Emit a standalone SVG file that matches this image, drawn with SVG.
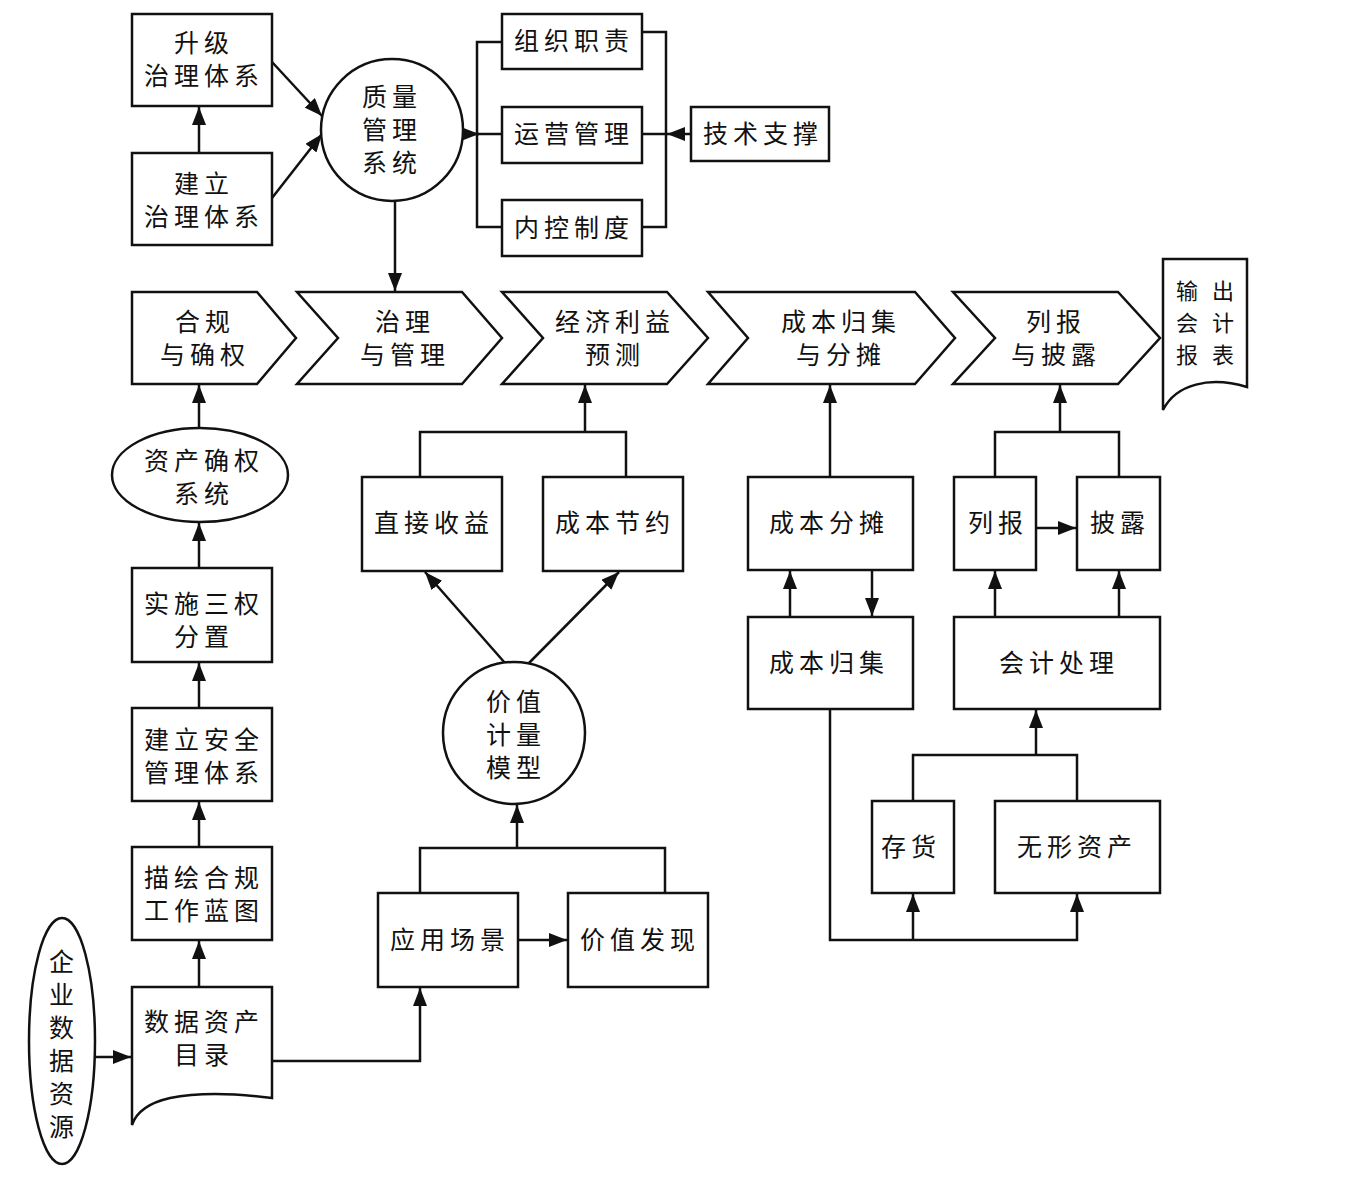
<svg xmlns="http://www.w3.org/2000/svg" width="1371" height="1180" viewBox="0 0 1371 1180">
<style>
.s{fill:#fff;stroke:#111;stroke-width:2.5}
.c{fill:none;stroke:#111;stroke-width:2.5}
.t{font-family:"Noto Sans CJK SC","Noto Sans CJK TC",sans-serif;font-size:25px;letter-spacing:5px;fill:#111;text-anchor:middle}
.o{font-size:22px;letter-spacing:14px}
</style>
<defs>
<marker id="ah" markerUnits="userSpaceOnUse" markerWidth="18" markerHeight="14" refX="18" refY="7" orient="auto">
<path d="M0,0 L18,7 L0,14 z" fill="#111"/>
</marker>
</defs>
<rect width="1371" height="1180" fill="#fff"/>

<g id="connectors" class="c" marker-end="url(#ah)">
<path d="M199,153 L199,107"/>
<path d="M272,62 L322,116"/>
<path d="M272,198 L322,134"/>
<path d="M463,134 L479,134"/>
<path d="M502,42 L477,42 L477,227 L502,227 M477,134 L502,134" marker-end="none"/>
<path d="M642,32 L666,32 L666,227 L642,227 M642,134 L666,134" marker-end="none"/>
<path d="M691,134 L667,134"/>
<path d="M395,201 L395,291"/>
<path d="M199,428 L199,385"/>
<path d="M199,568 L199,523"/>
<path d="M199,708 L199,663"/>
<path d="M199,847 L199,802"/>
<path d="M199,987 L199,941"/>
<path d="M95,1057 L131,1057"/>
<path d="M272,1061 L420,1061 L420,988"/>
<path d="M518,940 L567,940"/>
<path d="M420,893 L420,848 L665,848 L665,893" marker-end="none"/>
<path d="M517,848 L517,805"/>
<path d="M505,663 L425,572"/>
<path d="M529,663 L619,572"/>
<path d="M420,477 L420,432 L626,432 L626,477" marker-end="none"/>
<path d="M585,432 L585,385"/>
<path d="M830,477 L830,385"/>
<path d="M790,617 L790,571"/>
<path d="M872,570 L872,616"/>
<path d="M830,709 L830,940 L1077,940 L1077,894"/>
<path d="M913,940 L913,894"/>
<path d="M913,801 L913,755 L1077,755 L1077,801" marker-end="none"/>
<path d="M1036,755 L1036,710"/>
<path d="M995,617 L995,571"/>
<path d="M1119,617 L1119,571"/>
<path d="M1036,528 L1076,528"/>
<path d="M995,477 L995,432 L1119,432 L1119,477" marker-end="none"/>
<path d="M1060,432 L1060,385"/>
</g>

<g id="n-upgrade"><rect class="s" x="132" y="14" width="140" height="92"/><text class="t" x="204" y="52">升级</text><text class="t" x="204" y="85">治理体系</text></g>
<g id="n-build"><rect class="s" x="132" y="153" width="140" height="92"/><text class="t" x="204" y="193">建立</text><text class="t" x="204" y="226">治理体系</text></g>
<g id="n-qms"><circle class="s" cx="392" cy="130" r="71"/><text class="t" x="392" y="106">质量</text><text class="t" x="392" y="139">管理</text><text class="t" x="392" y="172">系统</text></g>
<g id="n-org"><rect class="s" x="502" y="14" width="140" height="55"/><text class="t" x="574" y="50">组织职责</text></g>
<g id="n-ops"><rect class="s" x="502" y="107" width="140" height="56"/><text class="t" x="574" y="143">运营管理</text></g>
<g id="n-ctrl"><rect class="s" x="502" y="200" width="140" height="56"/><text class="t" x="574" y="237">内控制度</text></g>
<g id="n-tech"><rect class="s" x="691" y="107" width="138" height="54"/><text class="t" x="763" y="143">技术支撑</text></g>

<g id="n-comply"><polygon class="s" points="132,292 257,292 296,338 257,384 132,384"/><text class="t" x="205" y="331">合规</text><text class="t" x="205" y="364">与确权</text></g>
<g id="n-govern"><polygon class="s" points="297,292 462,292 502,338 462,384 297,384 338,338"/><text class="t" x="405" y="331">治理</text><text class="t" x="405" y="364">与管理</text></g>
<g id="n-econ"><polygon class="s" points="502,292 667,292 708,338 667,384 502,384 543,338"/><text class="t" x="615" y="331">经济利益</text><text class="t" x="615" y="364">预测</text></g>
<g id="n-costchev"><polygon class="s" points="708,292 915,292 955,338 915,384 708,384 748,338"/><text class="t" x="841" y="331">成本归集</text><text class="t" x="841" y="364">与分摊</text></g>
<g id="n-report"><polygon class="s" points="953,292 1118,292 1160,338 1118,384 953,384 995,338"/><text class="t" x="1056" y="331">列报</text><text class="t" x="1056" y="364">与披露</text></g>
<g id="n-output"><path class="s" d="M1163,259 L1247,259 L1247,387 C1210,376 1176,384 1163,410 Z"/><text class="t o" x="1212" y="299">输出</text><text class="t o" x="1212" y="331">会计</text><text class="t o" x="1212" y="363">报表</text></g>

<g id="n-rights"><ellipse class="s" cx="200" cy="475" rx="88" ry="47"/><text class="t" x="204" y="470">资产确权</text><text class="t" x="204" y="503">系统</text></g>
<g id="n-three"><rect class="s" x="132" y="568" width="140" height="94"/><text class="t" x="204" y="613">实施三权</text><text class="t" x="204" y="646">分置</text></g>
<g id="n-safety"><rect class="s" x="132" y="708" width="140" height="93"/><text class="t" x="204" y="749">建立安全</text><text class="t" x="204" y="782">管理体系</text></g>
<g id="n-blueprint"><rect class="s" x="132" y="847" width="140" height="93"/><text class="t" x="204" y="887">描绘合规</text><text class="t" x="204" y="920">工作蓝图</text></g>
<g id="n-catalog"><path class="s" d="M132,987 L272,987 L272,1098 C240,1094 200,1092 170,1098 C148,1103 136,1113 132,1125 Z"/><text class="t" x="204" y="1031">数据资产</text><text class="t" x="204" y="1064">目录</text></g>
<g id="n-source"><ellipse class="s" cx="62" cy="1041" rx="33" ry="123"/><text class="t" x="64" y="971">企</text><text class="t" x="64" y="1004">业</text><text class="t" x="64" y="1037">数</text><text class="t" x="64" y="1070">据</text><text class="t" x="64" y="1103">资</text><text class="t" x="64" y="1136">源</text></g>

<g id="n-scene"><rect class="s" x="378" y="893" width="140" height="94"/><text class="t" x="450" y="949">应用场景</text></g>
<g id="n-discover"><rect class="s" x="568" y="893" width="140" height="94"/><text class="t" x="640" y="949">价值发现</text></g>
<g id="n-model"><circle class="s" cx="514" cy="733" r="71"/><text class="t" x="516" y="711">价值</text><text class="t" x="516" y="744">计量</text><text class="t" x="516" y="777">模型</text></g>
<g id="n-income"><rect class="s" x="362" y="477" width="140" height="94"/><text class="t" x="434" y="532">直接收益</text></g>
<g id="n-saving"><rect class="s" x="543" y="477" width="140" height="94"/><text class="t" x="615" y="532">成本节约</text></g>

<g id="n-alloc"><rect class="s" x="748" y="477" width="165" height="93"/><text class="t" x="829" y="532">成本分摊</text></g>
<g id="n-collect"><rect class="s" x="748" y="617" width="165" height="92"/><text class="t" x="829" y="672">成本归集</text></g>
<g id="n-list"><rect class="s" x="954" y="477" width="82" height="93"/><text class="t" x="998" y="532">列报</text></g>
<g id="n-disclose"><rect class="s" x="1077" y="477" width="83" height="93"/><text class="t" x="1120" y="532">披露</text></g>
<g id="n-acct"><rect class="s" x="954" y="617" width="206" height="92"/><text class="t" x="1059" y="672">会计处理</text></g>
<g id="n-inventory"><rect class="s" x="872" y="801" width="82" height="92"/><text class="t" x="911" y="856">存货</text></g>
<g id="n-intangible"><rect class="s" x="995" y="801" width="165" height="92"/><text class="t" x="1077" y="856">无形资产</text></g>
</svg>
